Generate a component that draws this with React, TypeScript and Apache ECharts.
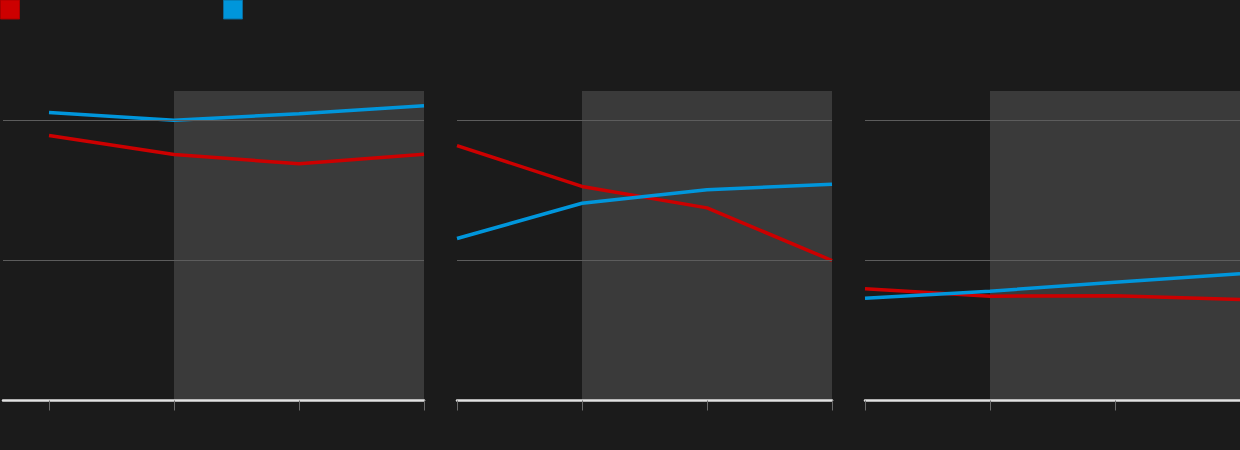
import React, { useEffect, useRef } from "react";
import * as echarts from "echarts";

// Four time points per panel, x positions 0..3
const xPoints = [0, 1, 2, 3];
// Panel values
const red1 = [18.93, 17.57, 16.91, 17.59];
const blue1 = [20.57, 20.02, 20.48, 21.05];
const red2 = [18.21, 15.29, 13.76, 10.0];
const blue2 = [11.57, 14.09, 15.05, 15.45];
const red3 = [7.98, 7.45, 7.48, 7.21];
const blue3 = [7.31, 7.81, 8.45, 9.05];
const gridValues = [10, 20];
const shadeStart = 1;
const shadeEnd = 3;

const RED = "#cc0000";
const BLUE = "#0096dc";
const BG = "#1b1b1b";

const panels = [
  { red: red1, blue: blue1, left: 3, width: 421, xmin: -0.368 },
  { red: red2, blue: blue2, left: 457, width: 375, xmin: 0 },
  { red: red3, blue: blue3, left: 865, width: 375, xmin: 0 },
];

export default function App() {
  const ref = useRef<HTMLDivElement>(null);
  useEffect(() => {
    if (!ref.current) return;
    const chart = echarts.init(ref.current, null, { renderer: "svg" });
    const grids: any[] = [];
    const xAxes: any[] = [];
    const yAxes: any[] = [];
    const series: any[] = [];
    panels.forEach((p, i) => {
      grids.push({ left: p.left, width: p.width, top: 91, height: 309.5 });
      xAxes.push({
        type: "value",
        gridIndex: i,
        min: p.xmin,
        max: 3,
        z: 10,
        axisLine: { show: true, onZero: false, lineStyle: { color: "#e2e2e2", width: 2.5 } },
        axisTick: { show: true, customValues: xPoints, length: 10, lineStyle: { color: "#6a6a6a", width: 1 } },
        axisLabel: { show: false },
        splitLine: { show: false },
      });
      yAxes.push({ type: "value", gridIndex: i, min: 0, max: 22.107, show: false, splitLine: { show: false } });
      const toData = (arr: number[]) => arr.map((v, k) => [xPoints[k], v]);
      series.push({
        type: "line",
        xAxisIndex: i,
        yAxisIndex: i,
        z: 0,
        silent: true,
        symbol: "none",
        lineStyle: { opacity: 0 },
        data: toData(p.red),
        markArea: {
          silent: true,
          itemStyle: { color: "#3a3a3a" },
          data: [[{ xAxis: shadeStart }, { xAxis: shadeEnd }]],
        },
      });
      series.push({
        type: "line",
        xAxisIndex: i,
        yAxisIndex: i,
        z: 1,
        silent: true,
        symbol: "none",
        lineStyle: { opacity: 0 },
        data: toData(p.red),
        markLine: {
          silent: true,
          symbol: "none",
          label: { show: false },
          lineStyle: { color: "#5c5c5c", width: 1, type: "solid" },
          data: gridValues.map((v) => ({ yAxis: v })),
        },
      });
      series.push({
        type: "line",
        name: "red",
        xAxisIndex: i,
        yAxisIndex: i,
        z: 3,
        symbol: "none",
        lineStyle: { color: RED, width: 3.5 },
        data: toData(p.red),
      });
      series.push({
        type: "line",
        name: "blue",
        xAxisIndex: i,
        yAxisIndex: i,
        z: 4,
        symbol: "none",
        lineStyle: { color: BLUE, width: 3.5 },
        data: toData(p.blue),
      });
    });
    chart.setOption({
      animation: false,
      backgroundColor: BG,
      grid: grids,
      xAxis: xAxes,
      yAxis: yAxes,
      series,
      graphic: [
        { type: "rect", shape: { x: 0.5, y: 0, width: 19, height: 19 }, style: { fill: RED, stroke: "#a80000", lineWidth: 1 } },
        { type: "rect", shape: { x: 223.5, y: 0, width: 19, height: 19 }, style: { fill: "#0096db", stroke: "#0a6a9a", lineWidth: 1 } },
      ],
    });
    return () => chart.dispose();
  }, []);
  return (
    <div
      ref={ref}
      style={{ position: "fixed", left: 0, top: 0, width: 1240, height: 450, background: BG }}
    />
  );
}
